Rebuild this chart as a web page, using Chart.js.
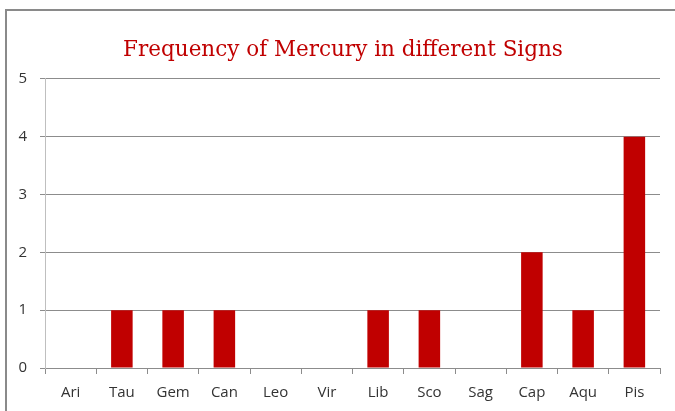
<!DOCTYPE html>
<html>
<head>
<meta charset="utf-8">
<script src="https://cdn.jsdelivr.net/npm/chart.js@4"></script>
<style>
  body { margin: 0; background: #fff; }
  #frame { position: absolute; left: 5px; top: 9px; width: 720px; height: 440px; border: 2px solid #8a8a8a; }
  #wrap { position: absolute; left: 0; top: 0; width: 675px; height: 411px; }
</style>
</head>
<body>
<div id="frame"></div>
<div id="wrap"><canvas id="myChart"></canvas></div>
<script>
// data
const signs = ['Ari', 'Tau', 'Gem', 'Can', 'Leo', 'Vir', 'Lib', 'Sco', 'Sag', 'Cap', 'Aqu', 'Pis'];
const counts = [0, 1, 1, 1, 0, 0, 1, 1, 0, 2, 1, 4];
const chartTitle = 'Frequency of Mercury in different Signs';

const ctx = document.getElementById('myChart');

// décale un peu le titre vers la droite (centré sur le cadre, pas sur le canvas)
const titleShift = {
  id: 'titleShift',
  afterLayout(chart) {
    if (chart.titleBlock) chart.titleBlock.left = 26;
  }
};

new Chart(ctx, {
  type: 'bar',
  data: {
    labels: signs,
    datasets: [{
      data: counts,
      backgroundColor: '#c00000',
      barPercentage: 0.42,
      categoryPercentage: 1
    }]
  },
  options: {
    responsive: true,
    maintainAspectRatio: false,
    animation: false,
    layout: { padding: { left: 0, right: 15, top: 0, bottom: 0 } },
    scales: {
      x: {
        offset: true,
        grid: { offset: true, drawOnChartArea: false, tickLength: 6, color: '#8c8c8c' },
        border: { color: '#8c8c8c' },
        ticks: { color: '#333333', padding: 10, font: { family: 'Open Sans', size: 15 } },
        afterFit: s => { s.height = 43; }
      },
      y: {
        min: 0,
        max: 5,
        ticks: { stepSize: 1, color: '#333333', padding: 13, font: { family: 'Open Sans', size: 15 } },
        grid: { color: '#8c8c8c', tickLength: 5 },
        border: { color: '#bfbfbf' },
        afterFit: s => { s.width = 45; }
      }
    },
    plugins: {
      legend: { display: false },
      tooltip: { enabled: false },
      title: {
        display: true,
        text: chartTitle,
        color: '#c00000',
        font: { family: 'DejaVu Serif', size: 21.5, weight: 'normal' },
        padding: { top: 38, bottom: 15 }
      }
    }
  },
  plugins: [titleShift]
});
</script>
</body>
</html>
